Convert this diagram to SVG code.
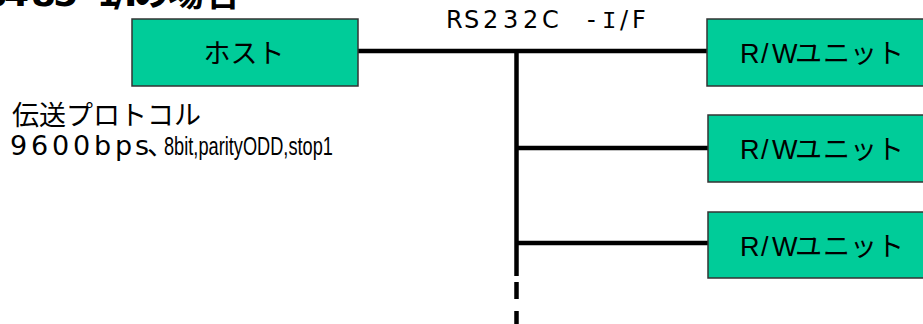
<svg xmlns="http://www.w3.org/2000/svg" width="923" height="324" viewBox="0 0 923 324">
<style>
.box{fill:#00CC99;stroke:#333333;stroke-width:1.5}
.lbl{font-family:"Liberation Sans","Noto Sans CJK JP",sans-serif;font-size:27px;fill:#000}
.wire{stroke:#000;stroke-width:4.5;fill:none}
.txt{font-family:"DejaVu Sans","Noto Sans CJK JP",sans-serif;fill:#000}
.serifI{font-family:"Liberation Mono",monospace}
.ttl{font-size:36px;font-weight:bold}
.ifl{font-size:24px}
.bps{font-size:27px}
.narrow{font-family:"Liberation Sans",sans-serif;font-size:26px;fill:#000}
</style>
<rect width="923" height="324" fill="#fff"/>
<g id="title">
<text class="txt ttl" y="6"><tspan x="-40 -18 4 31 53 80">RS485-</tspan><tspan class="serifI" x="98">I</tspan><tspan x="114 124 133 168 205">/Fの場合</tspan></text>
</g>
<g id="connectors">
<line class="wire" x1="358" y1="51" x2="707" y2="51"/>
<line class="wire" x1="516.5" y1="49" x2="516.5" y2="276"/>
<line class="wire" x1="516.5" y1="282" x2="516.5" y2="324" stroke-dasharray="17 12"/>
<line class="wire" x1="516.5" y1="148" x2="708" y2="148"/>
<line class="wire" x1="516.5" y1="243" x2="708" y2="243"/>
</g>
<g id="if-label">
<text class="txt ifl" y="28"><tspan x="446 464 483 503 523 542 587">RS232C-</tspan><tspan class="serifI" x="602">I</tspan><tspan x="620 632">/F</tspan></text>
</g>
<g id="host">
<rect class="box" x="132" y="19" width="226" height="67"/>
<text class="lbl" x="244" y="63" text-anchor="middle">ホスト</text>
</g>
<g id="rw1">
<rect class="box" x="707" y="19" width="230" height="67"/>
<text class="lbl" y="63" x="740 761 772 795 823 850 877">R/Wユニット</text>
</g>
<g id="rw2">
<rect class="box" x="708" y="115" width="230" height="67"/>
<text class="lbl" y="159" x="740 761 772 795 823 850 877">R/Wユニット</text>
</g>
<g id="rw3">
<rect class="box" x="708" y="212" width="230" height="66"/>
<text class="lbl" y="256" x="740 761 772 795 823 850 877">R/Wユニット</text>
</g>
<g id="protocol">
<text class="lbl" x="12" y="125">伝送プロトコル</text>
<text class="txt bps" y="155" x="10 31 52 73 94 115 135 147">9600bps、</text>
<text class="narrow" transform="translate(164 155) scale(0.7 1)" x="0" y="0">8bit,parityODD,stop1</text>
</g>
</svg>
